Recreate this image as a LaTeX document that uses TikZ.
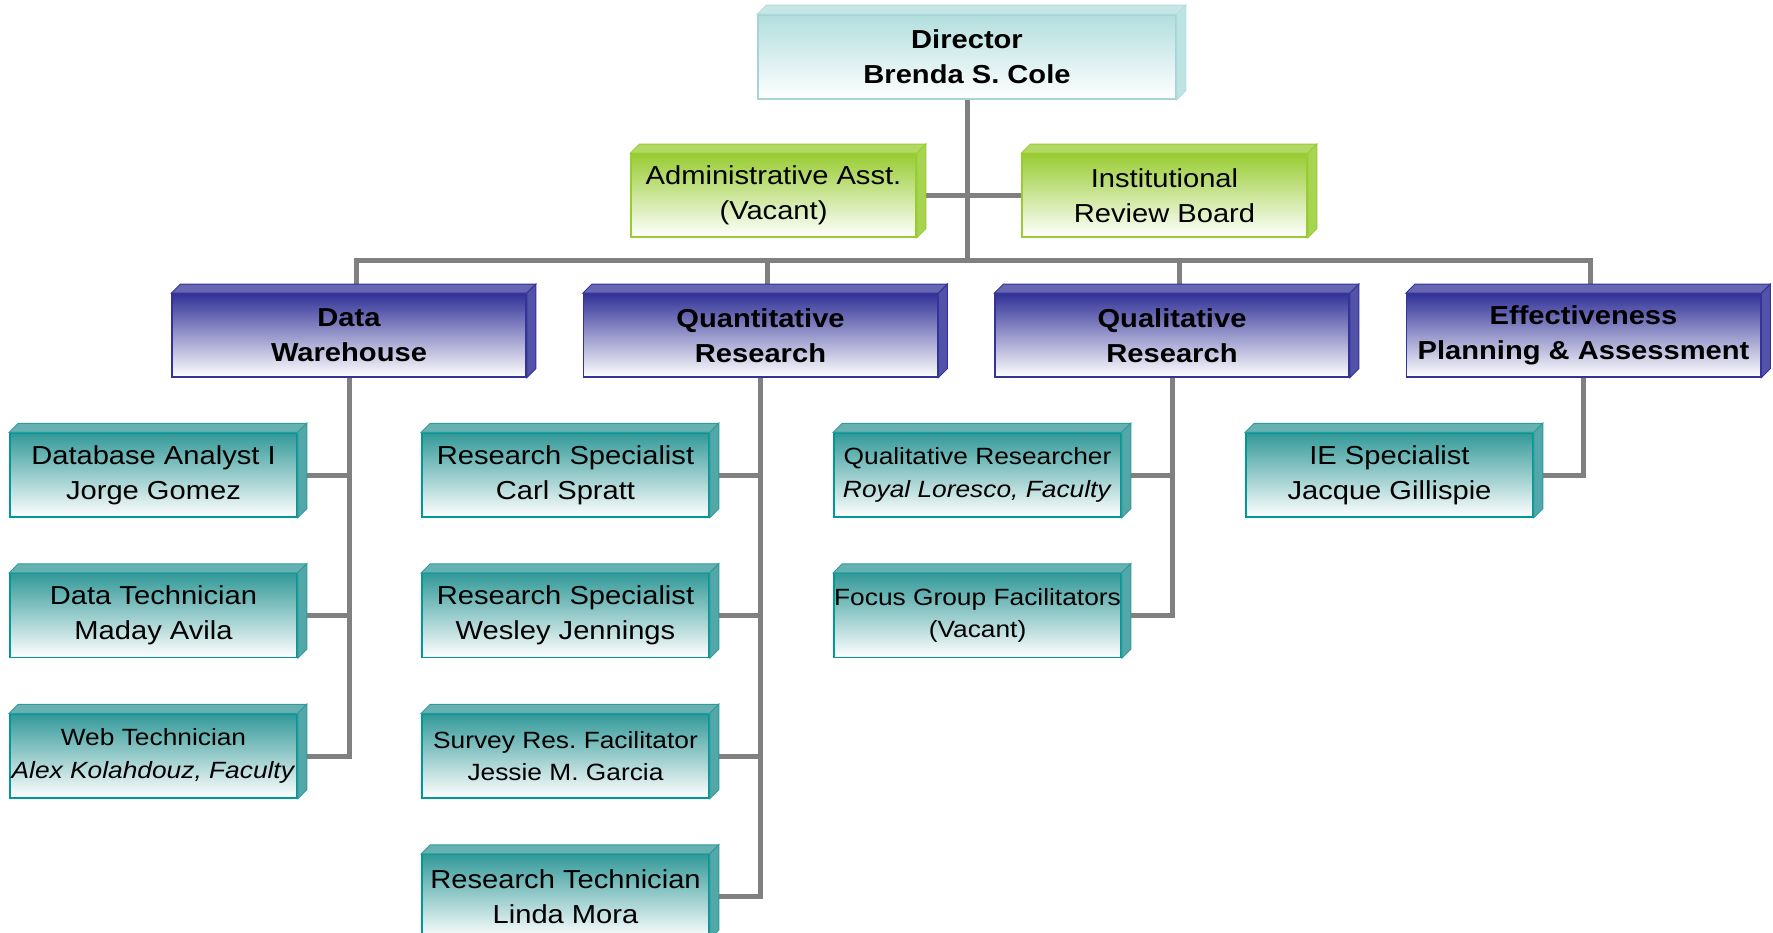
\documentclass[tikz,border=0pt]{standalone}
\usepackage{fontspec}
\setmainfont[FakeStretch=1.12]{Liberation Sans}
\usetikzlibrary{positioning, backgrounds}
\definecolor{dirtop}{HTML}{B3DEDE}
\definecolor{dirline}{HTML}{A6D3D6}
\definecolor{greentop}{HTML}{99CC33}
\definecolor{bluetop}{HTML}{333399}
\definecolor{tealtop}{HTML}{339999}
\definecolor{tealline}{HTML}{009999}
\definecolor{linkgray}{HTML}{808080}
\frenchspacing

\begin{document}
\begin{tikzpicture}[x=1pt, y=1pt,
            director/.style={
                rectangle,
                draw=dirline,
                line width=1.5pt,
                top color=dirtop,
                bottom color=white,
                minimum width=418pt,
                minimum height=84pt,
                inner sep=0pt,
                align=center,
                font={\fontsize{26}{35}\selectfont\bfseries}
            },
            support/.style={
                rectangle,
                draw=greentop,
                line width=1.5pt,
                top color=greentop,
                bottom color=white,
                minimum width=285pt,
                minimum height=83pt,
                inner sep=0pt,
                align=center,
                font={\fontsize{26}{35}\selectfont}
            },
            division/.style={
                rectangle,
                draw=bluetop,
                line width=1.5pt,
                top color=bluetop,
                bottom color=white,
                minimum width=354pt,
                minimum height=83pt,
                inner sep=0pt,
                align=center,
                font={\fontsize{26}{35}\selectfont\bfseries}
            },
            staff/.style={
                rectangle,
                draw=tealline,
                line width=1.5pt,
                top color=tealtop,
                bottom color=white,
                minimum width=287pt,
                minimum height=84pt,
                inner sep=0pt,
                align=center,
                font={\fontsize{26}{35}\selectfont}
            },
            smallstaff/.style={
                staff,
                font={\fontsize{23.5}{32.5}\selectfont}
            },
            link/.style={
                draw=linkgray,
                line width=5pt
            },
            node distance=55pt
        ]
        \useasboundingbox (0,0) rectangle (1773,-933);

        % Director Node
        \node (director) [director] at (967,-57) {Director\\Brenda S. Cole};

        % Support Nodes
        \node (admin) [support] at (773.5,-195.5) {Administrative Asst.\\(Vacant)};
        \node (irb) [support] at (1164.5,-195.5) {Institutional\\Review Board};

        % Divisions
        \node (dw) [division] at (349,-335.5) {Data\\Warehouse};
        \node (qr) [division, right=56pt of dw] {Quantitative\\Research};
        \node (ql) [division, right=56pt of qr] {Qualitative\\Research};
        \node (ep) [division, right=56pt of ql] {Effectiveness\\Planning \& Assessment};

        % Staff of the Divisions
        \node (dba) [staff] at (153.5,-475) {Database Analyst I\\Jorge Gomez};
        \node (dtech) [staff, below=of dba] {Data Technician\\Maday Avila};
        \node (web) [smallstaff, below=of dtech] {Web Technician\\\textit{Alex Kolahdouz, Faculty}};
        \node (rs1) [staff, right=123.5pt of dba] {Research Specialist\\Carl Spratt};
        \node (rs2) [staff, below=of rs1] {Research Specialist\\Wesley Jennings};
        \node (srf) [smallstaff, below=of rs2] {Survey Res. Facilitator\\Jessie M. Garcia};
        \node (rtech) [staff, below=of srf] {Research Technician\\Linda Mora};
        \node (qres) [smallstaff, right=123.5pt of rs1] {Qualitative Researcher\\\textit{Royal Loresco, Faculty}};
        \node (fgf) [smallstaff, below=of qres] {Focus Group Facilitators\\(Vacant)};
        \node (ies) [staff, right=123.5pt of qres] {IE Specialist\\Jacque Gillispie};

        % Top and side faces of the boxes
        \foreach \n/\c in {director/dirtop, admin/greentop, irb/greentop,
                           dw/bluetop, qr/bluetop, ql/bluetop, ep/bluetop,
                           dba/tealtop, dtech/tealtop, web/tealtop,
                           rs1/tealtop, rs2/tealtop, srf/tealtop, rtech/tealtop,
                           qres/tealtop, fgf/tealtop, ies/tealtop} {
            \filldraw[fill=\c!75!white, draw=\c, line width=1pt]
                (\n.north west) -- ++(9,9) -- ([shift={(9,9)}]\n.north east)
                -- (\n.north east) -- cycle;
            \filldraw[fill=\c!85!white, draw=\c, line width=1pt]
                (\n.north east) -- ++(9,9) -- ([shift={(9,9)}]\n.south east)
                -- (\n.south east) -- cycle;
        }

        % Connectors
        \begin{scope}[on background layer]
            \coordinate (busy) at (0,-261);
            \coordinate (bus) at (director.south |- busy);
            \draw[link] (director.south) -- (bus);
            \draw[link] (admin.east) -- (irb.west);
            \foreach \n in {dw, qr, ql, ep}
                \draw[link] (bus) -| ([xshift=7pt]\n.north);
            \foreach \b/\s in {dw/dba, dw/dtech, dw/web,
                               qr/rs1, qr/rs2, qr/srf, qr/rtech,
                               ql/qres, ql/fgf, ep/ies}
                \draw[link] (\b.south) |- (\s.east);
        \end{scope}

        \end{tikzpicture}
\end{document}
